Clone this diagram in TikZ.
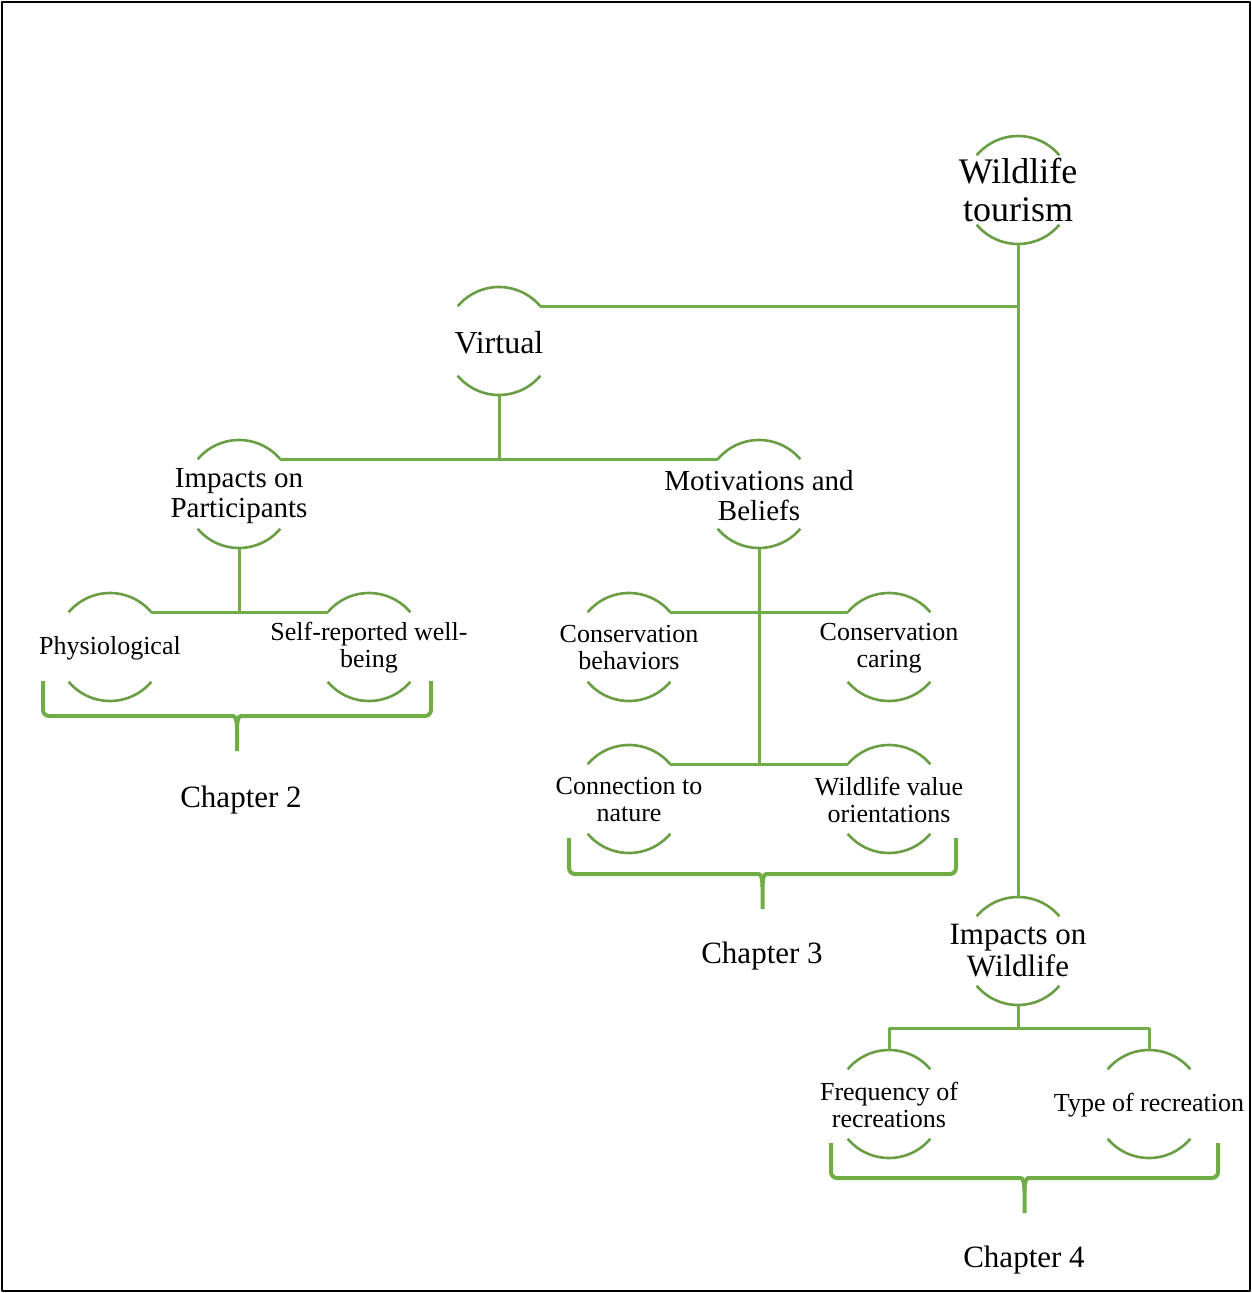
\documentclass[tikz,border=0pt]{standalone}
\usepackage{fontspec}
\setmainfont{Liberation Serif}
\definecolor{WTGreen}{HTML}{70AD47}
\definecolor{WTArc}{HTML}{6A9E45}

\tikzset{
  hub/.style={circle,minimum size=108pt,inner sep=0pt,outer sep=0pt},
  toptext/.style={align=center,inner sep=0pt,font=\fontsize{36}{38}\selectfont},
  midtext/.style={align=center,inner sep=0pt,yshift=-2pt,font=\fontsize{29}{30}\selectfont},
  iwtext/.style={align=center,inner sep=0pt,font=\fontsize{31}{32}\selectfont},
  leaftext/.style={align=center,inner sep=0pt,yshift=-1pt,font=\fontsize{26}{27}\selectfont},
  chaptext/.style={inner sep=0pt,font=\fontsize{31}{34}\selectfont},
  ring/.style={WTArc,line width=2.6pt},
  link/.style={WTGreen,line width=3pt},
  brace/.style={WTGreen,line width=4pt}
}

% bracket under a group: left x, right x, top y, bar y
\newcommand{\chapbrace}[4]{%
  \draw[brace] (#1,#3) [rounded corners=6pt] -- (#1,#4) -- ({(#1+#2)/2-10},#4) [sharp corners]
    .. controls ({(#1+#2)/2-2},#4) and ({(#1+#2)/2},{#4-3}) .. ({(#1+#2)/2},{#4-13}) -- ({(#1+#2)/2},{#4-35});
  \draw[brace] (#2,#3) [rounded corners=6pt] -- (#2,#4) -- ({(#1+#2)/2+10},#4) [sharp corners]
    .. controls ({(#1+#2)/2+2},#4) and ({(#1+#2)/2},{#4-3}) .. ({(#1+#2)/2},{#4-13});
}

\begin{document}
\begin{tikzpicture}[x=1pt,y=1pt,line join=round]
  \useasboundingbox (0,0) rectangle (1252,-1293);
  \draw[black,line width=2pt] (2,-2) rectangle (1250,-1291);

  % circles
  \node[hub,label={[toptext]center:Wildlife\\tourism}] (wt) at (1018,-190) {};
  \node[hub,label={[midtext,font=\fontsize{32}{34}\selectfont]center:Virtual}] (vir) at (499,-341) {};
  \node[hub,label={[midtext]center:Impacts on\\Participants}] (imp) at (239,-494) {};
  \node[hub,label={[midtext]center:Motivations and\\Beliefs}] (mot) at (759,-494) {};
  \node[hub,label={[leaftext]center:Physiological}] (phy) at (110,-647) {};
  \node[hub,label={[leaftext]center:Self-reported well-\\being}] (self) at (369,-647) {};
  \node[hub,label={[leaftext]center:Conservation\\behaviors}] (cb) at (629,-647) {};
  \node[hub,label={[leaftext]center:Conservation\\caring}] (cc) at (889,-647) {};
  \node[hub,label={[leaftext]center:Connection to\\nature}] (cn) at (629,-799) {};
  \node[hub,label={[leaftext]center:Wildlife value\\orientations}] (wvo) at (889,-799) {};
  \node[hub,label={[iwtext]center:Impacts on\\Wildlife}] (iw) at (1018,-951) {};
  \node[hub,label={[leaftext]center:Frequency of\\recreations}] (fr) at (889,-1104) {};
  \node[hub,label={[leaftext]center:Type of recreation}] (tr) at (1149,-1104) {};

  \foreach \n in {wt,vir,imp,mot,phy,self,cb,cc,cn,wvo,iw,fr,tr}{
    \draw[ring] (\n.40) arc[start angle=40,end angle=140,radius=54pt];
    \draw[ring] (\n.220) arc[start angle=220,end angle=320,radius=54pt];
  }

  % tree lines
  \draw[link] (wt.south) -- (iw.north);
  \draw[link] (vir.40) -- (vir.40 -| wt.south);
  \draw[link] (vir.south) -- (vir.south |- imp.40);
  \draw[link] (imp.40) -- (mot.140);
  \draw[link] (imp.south) -- (imp.south |- phy.40);
  \draw[link] (phy.40) -- (self.140);
  \draw[link] (mot.south) -- (mot.south |- cn.40);
  \draw[link] (cb.40) -- (cc.140);
  \draw[link] (cn.40) -- (wvo.140);
  \draw[link] (fr.north) -- ++(0,22) coordinate (fork) -| (tr.north);
  \draw[link] (iw.south) -- (iw.south |- fork);

  % chapters
  \chapbrace{43}{431}{-681}{-716}
  \node[chaptext] (ch2) at (241,-800) {Chapter 2};
  \chapbrace{569}{956}{-838}{-874}
  \node[chaptext] (ch3) at (762,-956) {Chapter 3};
  \chapbrace{831}{1218}{-1143}{-1178}
  \node[chaptext] (ch4) at (1024,-1260) {Chapter 4};
\end{tikzpicture}
\end{document}
